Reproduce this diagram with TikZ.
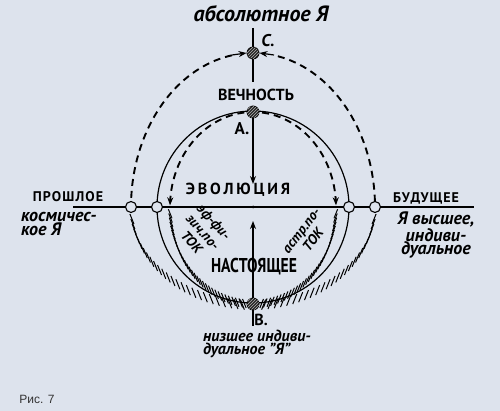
\documentclass[tikz,border=0pt]{standalone}
\usepackage{fontspec}
\setmainfont{PT Sans}
\newfontfamily\figfont{Liberation Sans}
\usepackage{graphicx}
\usetikzlibrary{arrows.meta,patterns}
\definecolor{paper}{RGB}{221,227,237}

\begin{document}
\begin{tikzpicture}[x=1pt,y=-1pt,
  line/.style={line width=1.2pt},
  dash line/.style={line width=1.9pt, dash pattern=on 7pt off 5pt},
  arr/.style={-{Stealth[length=8pt,width=6pt]}},
  rarr/.style={{Stealth[length=8pt,width=6pt]}-},
  ball/.style={circle, draw, line width=0.8pt, minimum size=12pt, inner sep=0pt,
    fill=black!85, postaction={pattern=north east lines, pattern color=gray!60}},
  ring/.style={circle, draw, line width=1.1pt, minimum size=11pt, inner sep=0pt, fill=paper},
  dot/.style={circle, fill, minimum size=3pt, inner sep=0pt},
  hatch/.style={line width=1pt},
  caps/.style={inner sep=0pt, font=\fontsize{14}{16}\bfseries\selectfont},
  hand/.style={inner sep=0pt, font=\fontsize{18}{14}\bfseries\itshape\selectfont}
]
\fill[paper] (0,0) rectangle (500,411);
\useasboundingbox (0,0) rectangle (500,411);

\coordinate (O) at (253,207);
\coordinate (A) at (253,112);
\coordinate (B) at (253,304);
\coordinate (C) at (253,53);
\coordinate (P1) at (131,207);
\coordinate (P2) at (157,207);
\coordinate (F1) at (349,207);
\coordinate (F2) at (375,207);
\coordinate (axl) at (73,207);
\coordinate (axr) at (474,207);
\coordinate (top) at (253,28);
\coordinate (topend) at (253,82);
\coordinate (evo) at (253,184);
\coordinate (pres) at (253,221);
\coordinate (bot) at (253,326);
\coordinate (cl) at (232,55);
\coordinate (cr) at (274,55);

\draw[line] (axl) -- (axr);
\draw[line] (O) circle[radius=96];
\draw[line] (top) -- (topend);
\draw[line] (B) -- (bot);

\draw[dash line] plot[domain=2:80, samples=40] ({253+122*cos(\x)},{207-154*sin(\x)});
\draw[dash line] plot[domain=100:178, samples=40] ({253+122*cos(\x)},{207-154*sin(\x)});
\draw[dash line, arr] plot[domain=96:179, samples=40] ({253+83*cos(\x)},{207-95*sin(\x)});
\draw[dash line, rarr] plot[domain=1:84, samples=40] ({253+83*cos(\x)},{207-95*sin(\x)});

\foreach \p in {7,10,...,87} {
  \draw[hatch] ({253-122*cos(\p)-2},{207+98*sin(\p)-5}) -- ++(4,10);
  \draw[hatch] ({253+122*cos(\p)+2},{207+98*sin(\p)-5}) -- ++(-4,10);
}
\foreach \p in {4,6.5,...,86} {
  \draw[hatch] ({253-83*cos(\p)-1.8},{207+97*sin(\p)-4.5}) -- ++(3.6,9);
  \draw[hatch] ({253+83*cos(\p)+1.8},{207+97*sin(\p)-4.5}) -- ++(-3.6,9);
}

\node[ring] (p1) at (P1) {};
\node[ring] (p2) at (P2) {};
\node[ring] (f1) at (F1) {};
\node[ring] (f2) at (F2) {};
\node[dot] (o) at (O) {};
\node[ball] (a) at (A) {};
\node[ball] (b) at (B) {};
\node[ball] (c) at (C) {};

\draw[line, arr] (a) -- (evo);
\draw[line, arr] (b) -- (pres);
\draw[line, arr] (cl) -- (c.west);
\draw[line, arr] (cr) -- (c.east);

\node[hand, font=\fontsize{22}{20}\bfseries\itshape\selectfont] (absolute) at (261,14) {абсолютное Я};
\node[hand, font=\fontsize{17}{16}\bfseries\itshape\selectfont] (cname) at (268,41) {С.};
\node[caps, font=\fontsize{16}{18}\bfseries\selectfont] (eternity) at (256,95) {ВЕЧНОСТЬ};
\node[hand, font=\fontsize{17}{16}\bfseries\selectfont] (aname) at (242,129) {А.};
\node[caps, font=\fontsize{16}{18}\bfseries\addfontfeature{LetterSpace=18}\selectfont] (evolution) at (238,190) {ЭВОЛЮЦИЯ};
\node[caps, font=\fontsize{14}{16}\bfseries\addfontfeature{LetterSpace=8}\selectfont] (past) at (68,197) {ПРОШЛОЕ};
\node[hand, font=\fontsize{18}{14}\bfseries\itshape\selectfont, align=left, anchor=north west] (cosmic) at (21,212) {космичес-\\кое Я};
\node[caps, font=\fontsize{14}{16}\bfseries\addfontfeature{LetterSpace=7}\selectfont] (future) at (426,198) {БУДУЩЕЕ};
\node[hand, font=\fontsize{18}{13.5}\bfseries\itshape\selectfont, align=center] (higher) at (436,235) {Я высшее,\\индиви-\\дуальное};
\node[caps, font=\fontsize{20}{20}\bfseries\selectfont] (present) at (254,267) {\scalebox{0.78}[1]{НАСТОЯЩЕЕ}};
\node[hand, font=\fontsize{14}{15}\bfseries\itshape\selectfont, align=center, rotate=-48] (ether) at (203,232) {эф-фи-\\зич.по-\\ТОК};
\node[hand, font=\fontsize{14}{15}\bfseries\itshape\selectfont, align=center, rotate=52] (astral) at (308,236) {астр.по-\\ТОК};
\node[hand, font=\fontsize{16}{16}\bfseries\selectfont] (bname) at (261,320) {В.};
\node[hand, font=\fontsize{16}{13}\bfseries\itshape\selectfont, align=left, anchor=north west] (lower) at (203,330) {низшее индиви-\\дуальное "Я"};
\node[inner sep=0pt, text=black!80, font=\figfont\fontsize{12}{12}\selectfont] (fig) at (37,399) {Рис. 7};

\end{tikzpicture}
\end{document}
